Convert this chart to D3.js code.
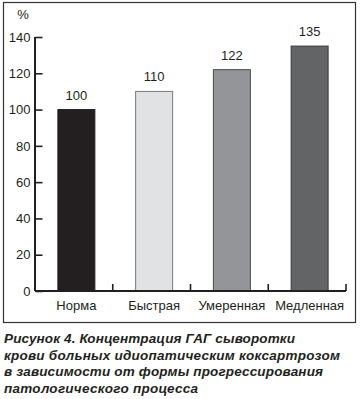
<!DOCTYPE html>
<html><head><meta charset="utf-8">
<script src="https://cdn.jsdelivr.net/npm/d3@7"></script>
<style>
html,body{margin:0;padding:0;background:#fff;}
svg{display:block;}
</style></head>
<body>
<svg id="c" width="360" height="399"></svg>
<script>
const categories = ["Норма", "Быстрая", "Умеренная", "Медленная"];
const values = [100, 110, 122, 135];
const fills = ["#231f20", "#e1e2e4", "#939598", "#636466"];
const strokes = ["#231f20", "#7a7a7c", "#4a4a4c", "#3a3a3c"];
const yTicks = [0, 20, 40, 60, 80, 100, 120, 140];
const unitLabel = "%";
const captionLines = [
  "Рисунок 4. Концентрация ГАГ сыворотки",
  "крови больных идиопатическим коксартрозом",
  "в зависимости от формы прогрессирования",
  "патологического процесса"
];

const svg = d3.select("#c");
const font = "'Liberation Sans', Arial, sans-serif";
const ink = "#231f20";

// frame
svg.append("rect").attr("x", 3.5).attr("y", 2.5).attr("width", 352).attr("height", 320)
  .attr("fill", "none").attr("stroke", "#333").attr("stroke-width", 1.2);

const x = d3.scaleBand().domain(categories).range([35, 346]);
const y = d3.scaleLinear().domain([0, 140]).range([291, 37]);

const barW = 37;
svg.selectAll("rect.bar").data(categories).enter().append("rect")
  .attr("class", "bar")
  .attr("x", (d) => x(d) + (x.bandwidth() - barW) / 2 + 2.5)
  .attr("y", (d, i) => y(values[i]))
  .attr("width", barW)
  .attr("height", (d, i) => y(0) - y(values[i]))
  .attr("fill", (d, i) => fills[i])
  .attr("stroke", (d, i) => strokes[i])
  .attr("stroke-width", 1);

svg.selectAll("text.val").data(categories).enter().append("text")
  .attr("x", (d) => x(d) + x.bandwidth() / 2 + 2.5)
  .attr("y", (d, i) => y(values[i]) - 10)
  .attr("text-anchor", "middle")
  .attr("font-family", font).attr("font-size", 13).attr("fill", ink)
  .text((d, i) => values[i]);

// y axis
const yAxis = d3.axisLeft(y).tickValues(yTicks).tickSize(-7).tickPadding(12);
const gy = svg.append("g").attr("transform", "translate(35.5,0)").call(yAxis);
gy.select(".domain").attr("d", `M-0.5,${y(140)}V${y(0)}`).attr("stroke", ink).attr("stroke-width", 2);
gy.selectAll(".tick line").attr("stroke", ink).attr("stroke-width", 1.6);
gy.selectAll(".tick text").attr("font-family", font).attr("font-size", 13).attr("fill", ink)
  .attr("x", -5);

// x axis
const gx = svg.append("g").attr("transform", `translate(0,${y(0)})`);
gx.append("line").attr("x1", 35).attr("x2", 346).attr("y1", 0).attr("y2", 0)
  .attr("stroke", ink).attr("stroke-width", 2);
gx.selectAll("line.t").data(categories).enter().append("line")
  .attr("x1", (d) => x(d) + x.bandwidth()).attr("x2", (d) => x(d) + x.bandwidth())
  .attr("y1", 0).attr("y2", -7).attr("stroke", ink).attr("stroke-width", 1.6);
gx.selectAll("text").data(categories).enter().append("text")
  .attr("x", (d) => x(d) + x.bandwidth() / 2 + 2.5)
  .attr("y", 19)
  .attr("text-anchor", "middle")
  .attr("font-family", font).attr("font-size", 13).attr("fill", ink)
  .text((d) => d);

svg.append("text").attr("x", 23).attr("y", 19).attr("text-anchor", "middle")
  .attr("font-family", font).attr("font-size", 13).attr("fill", ink).text(unitLabel);

// caption
const capWidths = [291, 336, 319, 194];
svg.selectAll("text.cap").data(captionLines).enter().append("text")
  .attr("class", "cap")
  .attr("x", 4).attr("y", (d, i) => 343 + i * 16.6)
  .attr("font-family", font).attr("font-size", 13.5).attr("font-weight", "bold")
  .attr("font-style", "italic").attr("fill", ink)
  .attr("textLength", (d, i) => capWidths[i]).attr("lengthAdjust", "spacing")
  .text((d) => d);
</script>
</body></html>
